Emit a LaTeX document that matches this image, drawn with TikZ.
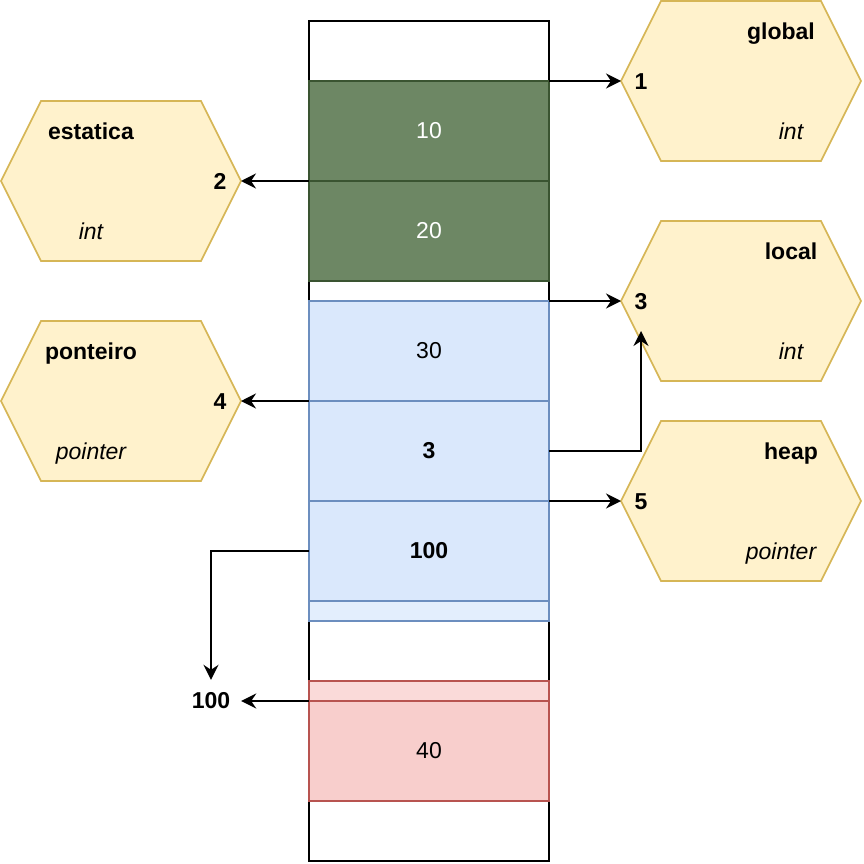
\documentclass[tikz,border=0pt]{standalone}
\usepackage{fontspec}
\setmainfont{Liberation Sans}
\usetikzlibrary{arrows.meta}
\definecolor{gfill}{HTML}{6D8764}
\definecolor{gdraw}{HTML}{3A5431}
\definecolor{bfill}{HTML}{DAE8FC}
\definecolor{bdraw}{HTML}{6C8EBF}
\definecolor{rfill}{HTML}{F8CECC}
\definecolor{rdraw}{HTML}{B85450}
\definecolor{hfill}{HTML}{FFF2CC}
\definecolor{hdraw}{HTML}{D6B656}
\begin{document}
\begin{tikzpicture}[x=1pt,y=-1pt,
  font=\fontsize{23}{27}\selectfont,
  cell/.style={draw, line width=1.6pt, minimum width=240pt, minimum height=100pt, inner sep=0pt, outer sep=0pt},
  green/.style={cell, fill=gfill, draw=gdraw, text=white},
  blue/.style={cell, fill=bfill, draw=bdraw},
  red/.style={cell, fill=rfill, draw=rdraw},
  hexa/.style={fill=hfill, draw=hdraw, line width=1.6pt},
  lbl/.style={inner sep=0pt, text height=16.5pt, text depth=0pt},
  conn/.style={line width=2pt, -{Stealth[length=15pt,width=15pt,inset=5pt]}}]
\useasboundingbox (0,0) rectangle (864,864);
% memory column
\node[draw, line width=2pt, fill=white, minimum width=240pt, minimum height=840pt, inner sep=0pt, outer sep=0pt] (mem) at (429,441) {};
\node[green] (g10) at (429,131) {10};
\node[green] (g20) at (429,231) {20};
\node[blue] (b30) at (429,351) {30};
\node[blue] (b3) at (429,451) {\bfseries 3};
\node[blue] (b100) at (429,551) {\bfseries 100};
\node[cell, fill=bfill!75!white, draw=bdraw, minimum height=20pt] (bstrip) at (429,611) {};
\node[cell, fill=rfill!75!white, draw=rdraw, minimum height=20pt] (rstrip) at (429,691) {};
\node[red] (r40) at (429,751) {40};
% hexagons
\newcommand{\hexat}[2]{%
  \draw[hexa] (#1,#2+80) -- (#1+40,#2) -- (#1+200,#2) -- (#1+240,#2+80) -- (#1+200,#2+160) -- (#1+40,#2+160) -- cycle;}
\hexat{621}{1}
\hexat{1}{101}
\hexat{621}{221}
\hexat{1}{321}
\hexat{621}{421}
\coordinate (hglobal) at (621,81);
\coordinate (hestatica) at (241,181);
\coordinate (hlocal) at (621,301);
\coordinate (hlocalin) at (641,331);
\coordinate (hponteiro) at (241,401);
\coordinate (hheap) at (621,501);
% hexagon texts
\node[lbl] (tglobal) at (781,31) {\bfseries global};
\node[lbl] (n1) at (641,81) {\bfseries 1};
\node[lbl] (tint1) at (791,131) {\itshape int};
\node[lbl] (testatica) at (91,131) {\bfseries estatica};
\node[lbl] (n2) at (220,181) {\bfseries 2};
\node[lbl] (tint2) at (91,231) {\itshape int};
\node[lbl] (tlocal) at (791,251) {\bfseries local};
\node[lbl] (n3) at (641,301) {\bfseries 3};
\node[lbl] (tint3) at (791,351) {\itshape int};
\node[lbl] (tponteiro) at (91,351) {\bfseries ponteiro};
\node[lbl] (n4) at (220,401) {\bfseries 4};
\node[lbl] (tptr1) at (91,451) {\itshape pointer};
\node[lbl] (theap) at (791,451) {\bfseries heap};
\node[lbl] (n5) at (641,501) {\bfseries 5};
\node[lbl] (tptr2) at (781,551) {\itshape pointer};
\node[inner sep=0pt, minimum width=60pt, minimum height=42pt] (l100) at (211,701) {\bfseries 100};
% connectors
\draw[conn] (g10.north east) -- (hglobal);
\draw[conn] (g10.south west) -- (hestatica);
\draw[conn] (b30.north east) -- (hlocal);
\draw[conn] (b3.north west) -- (hponteiro);
\draw[conn] (b3.east) -| (hlocalin);
\draw[conn] (b100.north east) -- (hheap);
\draw[conn] (b100.west) -| (l100.north);
\draw[conn] (r40.north west) -- (l100.east);
\end{tikzpicture}
\end{document}
